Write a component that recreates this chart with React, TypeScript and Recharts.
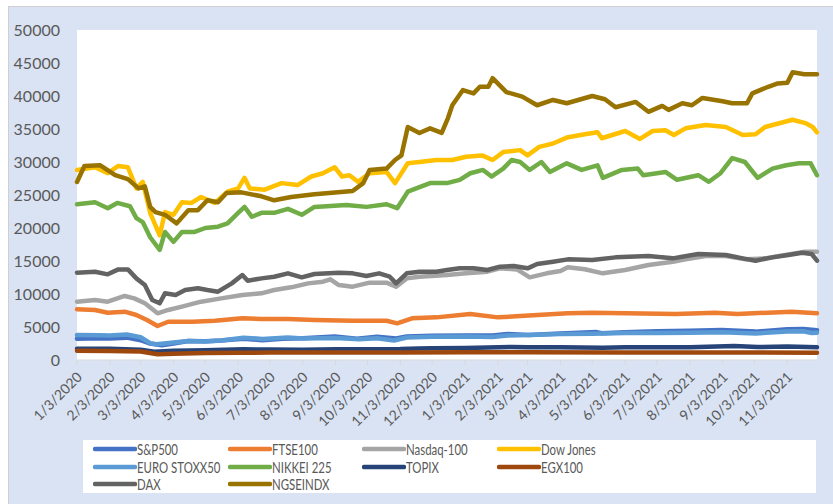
import { LineChart, Line, XAxis, YAxis, CartesianGrid } from "recharts";

// x-axis labels, one per month on the 3rd
const tickLabels = [
  "1/3/2020", "2/3/2020", "3/3/2020", "4/3/2020", "5/3/2020", "6/3/2020",
  "7/3/2020", "8/3/2020", "9/3/2020", "10/3/2020", "11/3/2020", "12/3/2020",
  "1/3/2021", "2/3/2021", "3/3/2021", "4/3/2021", "5/3/2021", "6/3/2021",
  "7/3/2021", "8/3/2021", "9/3/2021", "10/3/2021", "11/3/2021",
];
const yTicks = [0, 5000, 10000, 15000, 20000, 25000, 30000, 35000, 40000, 45000, 50000];
const firstDay = "2020-01-03";
const lastDay = "2021-12-01";

type Pt = [string, number];

const sp500: Pt[] = [
  ["2020-01-03", 3235], ["2020-01-24", 3300], ["2020-02-03", 3250], ["2020-02-19", 3386],
  ["2020-03-03", 3000], ["2020-03-12", 2480], ["2020-03-23", 2237], ["2020-04-03", 2490],
  ["2020-04-17", 2870], ["2020-05-03", 2830], ["2020-05-18", 2950], ["2020-06-08", 3230],
  ["2020-06-26", 3010], ["2020-07-15", 3230], ["2020-08-03", 3290], ["2020-09-02", 3580],
  ["2020-09-23", 3240], ["2020-10-12", 3530], ["2020-10-30", 3270], ["2020-11-09", 3550],
  ["2020-12-03", 3670], ["2021-01-04", 3700], ["2021-01-29", 3710], ["2021-02-12", 3930],
  ["2021-03-04", 3770], ["2021-04-03", 4020], ["2021-05-07", 4230], ["2021-05-12", 4060],
  ["2021-06-03", 4200], ["2021-07-03", 4350], ["2021-08-03", 4420], ["2021-09-02", 4540],
  ["2021-10-04", 4300], ["2021-11-03", 4660], ["2021-11-18", 4700], ["2021-11-26", 4590],
  ["2021-12-01", 4510],
];

const ftse100: Pt[] = [
  ["2020-01-03", 7680], ["2020-01-20", 7580], ["2020-02-01", 7170], ["2020-02-17", 7320],
  ["2020-02-28", 6820], ["2020-03-09", 6060], ["2020-03-19", 5150], ["2020-03-29", 5800],
  ["2020-04-21", 5800], ["2020-05-12", 5950], ["2020-06-07", 6310], ["2020-06-25", 6210],
  ["2020-07-20", 6210], ["2020-08-14", 6060], ["2020-09-19", 5950], ["2020-10-21", 5950],
  ["2020-10-31", 5550], ["2020-11-14", 6310], ["2020-12-07", 6460], ["2021-01-08", 6970],
  ["2021-02-03", 6460], ["2021-02-24", 6660], ["2021-04-10", 7070], ["2021-05-03", 7170],
  ["2021-07-21", 6970], ["2021-08-27", 7170], ["2021-09-17", 6970], ["2021-11-07", 7320],
  ["2021-12-01", 7070],
];

const nasdaq100: Pt[] = [
  ["2020-01-03", 8840], ["2020-01-20", 9090], ["2020-02-01", 8840], ["2020-02-17", 9700],
  ["2020-02-26", 9340], ["2020-03-07", 8590], ["2020-03-19", 7070], ["2020-03-29", 7580],
  ["2020-04-11", 8080], ["2020-04-29", 8840], ["2020-05-18", 9340], ["2020-06-07", 9850],
  ["2020-06-25", 10100], ["2020-07-07", 10600], ["2020-07-23", 11010], ["2020-08-08", 11610],
  ["2020-08-22", 11870], ["2020-08-29", 12220], ["2020-09-06", 11360], ["2020-09-19", 11110],
  ["2020-10-05", 11720], ["2020-10-21", 11720], ["2020-10-30", 11110], ["2020-11-09", 12370],
  ["2020-11-21", 12620], ["2020-12-17", 12880], ["2021-01-04", 13130], ["2021-01-24", 13380],
  ["2021-02-05", 13890], ["2021-02-21", 13730], ["2021-03-05", 12520], ["2021-03-21", 13130],
  ["2021-04-03", 13480], ["2021-04-10", 14040], ["2021-04-26", 13740], ["2021-05-13", 13130],
  ["2021-06-03", 13630], ["2021-06-25", 14390], ["2021-07-18", 14890], ["2021-07-30", 15250],
  ["2021-08-18", 15760], ["2021-09-06", 15760], ["2021-09-25", 15250], ["2021-10-13", 15400],
  ["2021-11-01", 15910], ["2021-11-20", 16410], ["2021-12-01", 16410],
];

const dowJones: Pt[] = [
  ["2020-01-03", 28800], ["2020-01-20", 29200], ["2020-02-01", 28300], ["2020-02-11", 29400],
  ["2020-02-20", 29200], ["2020-02-28", 26000], ["2020-03-05", 27000], ["2020-03-12", 22300],
  ["2020-03-21", 18900], ["2020-03-26", 22400], ["2020-04-03", 22000], ["2020-04-11", 23900],
  ["2020-04-20", 23800], ["2020-04-29", 24700], ["2020-05-12", 23800], ["2020-05-24", 25500],
  ["2020-06-03", 26000], ["2020-06-09", 27600], ["2020-06-14", 26000], ["2020-06-28", 25800],
  ["2020-07-14", 26800], ["2020-07-29", 26500], ["2020-08-11", 27800], ["2020-08-22", 28300],
  ["2020-09-02", 29200], ["2020-09-09", 27800], ["2020-09-16", 28000], ["2020-09-24", 27000],
  ["2020-10-05", 28300], ["2020-10-21", 28500], ["2020-10-29", 26800], ["2020-11-10", 29800],
  ["2020-11-21", 30000], ["2020-12-07", 30300], ["2020-12-22", 30300], ["2021-01-04", 30800],
  ["2021-01-19", 31000], ["2021-01-29", 30300], ["2021-02-08", 31500], ["2021-02-24", 31800],
  ["2021-03-03", 31000], ["2021-03-14", 32300], ["2021-03-27", 32800], ["2021-04-09", 33700],
  ["2021-04-26", 34200], ["2021-05-08", 34500], ["2021-05-12", 33600], ["2021-06-03", 34700],
  ["2021-06-17", 33500], ["2021-06-29", 34700], ["2021-07-11", 34800], ["2021-07-19", 34100],
  ["2021-07-30", 35100], ["2021-08-18", 35600], ["2021-09-06", 35300], ["2021-09-22", 34100],
  ["2021-10-04", 34200], ["2021-10-13", 35300], ["2021-11-08", 36400], ["2021-11-20", 35900],
  ["2021-11-27", 35300], ["2021-12-01", 34500],
];

const euroStoxx50: Pt[] = [
  ["2020-01-03", 3770], ["2020-01-24", 3750], ["2020-02-03", 3700], ["2020-02-19", 3860],
  ["2020-03-03", 3450], ["2020-03-12", 2550], ["2020-03-18", 2390], ["2020-04-03", 2660],
  ["2020-04-17", 2890], ["2020-05-03", 2800], ["2020-05-18", 2950], ["2020-06-08", 3380],
  ["2020-06-26", 3200], ["2020-07-20", 3400], ["2020-08-03", 3250], ["2020-09-03", 3330],
  ["2020-09-25", 3160], ["2020-10-12", 3300], ["2020-10-28", 2960], ["2020-11-09", 3400],
  ["2020-12-03", 3520], ["2021-01-04", 3560], ["2021-01-29", 3480], ["2021-02-12", 3700],
  ["2021-03-04", 3800], ["2021-04-03", 3950], ["2021-05-03", 3980], ["2021-06-03", 4080],
  ["2021-07-03", 4100], ["2021-08-03", 4120], ["2021-09-03", 4220], ["2021-10-04", 4030],
  ["2021-11-03", 4300], ["2021-11-18", 4350], ["2021-11-26", 4090], ["2021-12-01", 4140],
];

const nikkei225: Pt[] = [
  ["2020-01-03", 23600], ["2020-01-20", 23900], ["2020-02-01", 23000], ["2020-02-10", 23800],
  ["2020-02-22", 23300], ["2020-02-28", 21500], ["2020-03-05", 20900], ["2020-03-12", 18600],
  ["2020-03-21", 16700], ["2020-03-26", 19400], ["2020-04-03", 17900], ["2020-04-11", 19400],
  ["2020-04-23", 19400], ["2020-05-03", 20000], ["2020-05-15", 20200], ["2020-05-24", 20700],
  ["2020-06-03", 22300], ["2020-06-09", 23200], ["2020-06-16", 21700], ["2020-06-25", 22300],
  ["2020-07-07", 22300], ["2020-07-20", 22900], ["2020-08-02", 22000], ["2020-08-14", 23200],
  ["2020-09-13", 23500], ["2020-10-02", 23200], ["2020-10-21", 23600], ["2020-10-31", 23000],
  ["2020-11-10", 25500], ["2020-11-18", 26000], ["2020-12-01", 26800], ["2020-12-17", 26800],
  ["2020-12-29", 27300], ["2021-01-08", 28300], ["2021-01-20", 28800], ["2021-01-28", 27800],
  ["2021-02-08", 29000], ["2021-02-16", 30300], ["2021-02-24", 30000], ["2021-03-05", 28800],
  ["2021-03-16", 30000], ["2021-03-24", 28500], ["2021-04-09", 29800], ["2021-04-23", 28800],
  ["2021-05-08", 29500], ["2021-05-13", 27600], ["2021-05-31", 28800], ["2021-06-15", 29000],
  ["2021-06-20", 28000], ["2021-07-11", 28500], ["2021-07-22", 27300], ["2021-08-11", 28000],
  ["2021-08-21", 27000], ["2021-09-01", 28300], ["2021-09-12", 30600], ["2021-09-24", 30000],
  ["2021-10-06", 27600], ["2021-10-20", 29000], ["2021-11-02", 29500], ["2021-11-14", 29800],
  ["2021-11-25", 29800], ["2021-12-01", 28000],
];

const topix: Pt[] = [
  ["2020-01-03", 1720], ["2020-02-03", 1690], ["2020-03-03", 1550], ["2020-03-16", 1250],
  ["2020-04-03", 1400], ["2020-05-03", 1480], ["2020-06-08", 1620], ["2020-07-03", 1580],
  ["2020-08-03", 1550], ["2020-09-03", 1620], ["2020-10-03", 1630], ["2020-11-03", 1650],
  ["2020-11-20", 1750], ["2020-12-03", 1780], ["2021-01-03", 1800], ["2021-02-16", 1980],
  ["2021-03-03", 1950], ["2021-04-03", 1950], ["2021-05-13", 1850], ["2021-06-03", 1950],
  ["2021-07-03", 1950], ["2021-08-03", 1920], ["2021-09-14", 2120], ["2021-10-06", 1960],
  ["2021-11-03", 2050], ["2021-12-01", 1930],
];

const egx100: Pt[] = [
  ["2020-01-03", 1400], ["2020-02-03", 1380], ["2020-03-03", 1300], ["2020-03-19", 880],
  ["2020-04-03", 950], ["2020-05-03", 1050], ["2020-06-03", 1100], ["2020-07-03", 1120],
  ["2020-09-03", 1150], ["2020-11-03", 1130], ["2021-01-03", 1180], ["2021-03-03", 1170],
  ["2021-06-03", 1150], ["2021-09-03", 1140], ["2021-12-01", 1100],
];

const dax: Pt[] = [
  ["2020-01-03", 13230], ["2020-01-20", 13380], ["2020-02-01", 12980], ["2020-02-11", 13730],
  ["2020-02-20", 13730], ["2020-02-28", 12370], ["2020-03-07", 11360], ["2020-03-14", 9090],
  ["2020-03-21", 8590], ["2020-03-26", 10100], ["2020-04-05", 9850], ["2020-04-14", 10600],
  ["2020-04-26", 10860], ["2020-05-05", 10600], ["2020-05-15", 10350], ["2020-05-28", 11610],
  ["2020-06-07", 12880], ["2020-06-12", 12010], ["2020-06-25", 12370], ["2020-07-07", 12620],
  ["2020-07-20", 13130], ["2020-08-02", 12520], ["2020-08-14", 13030], ["2020-09-06", 13230],
  ["2020-09-19", 13130], ["2020-10-02", 12730], ["2020-10-14", 13130], ["2020-10-24", 12620],
  ["2020-10-30", 11610], ["2020-11-09", 13130], ["2020-11-21", 13380], ["2020-12-07", 13380],
  ["2020-12-17", 13630], ["2020-12-29", 13890], ["2021-01-11", 13890], ["2021-01-24", 13630],
  ["2021-02-05", 14140], ["2021-02-18", 14240], ["2021-03-03", 13890], ["2021-03-12", 14540],
  ["2021-03-27", 14890], ["2021-04-10", 15250], ["2021-05-03", 15150], ["2021-05-25", 15550],
  ["2021-06-25", 15760], ["2021-07-18", 15400], ["2021-08-11", 16060], ["2021-09-06", 15910],
  ["2021-09-22", 15400], ["2021-10-04", 15050], ["2021-10-20", 15550], ["2021-11-04", 15910],
  ["2021-11-17", 16260], ["2021-11-26", 16060], ["2021-12-01", 15050],
];

const ngseindx: Pt[] = [
  ["2020-01-03", 26970], ["2020-01-10", 29400], ["2020-01-25", 29500], ["2020-02-08", 28000],
  ["2020-02-20", 27400], ["2020-03-01", 26000], ["2020-03-07", 26300], ["2020-03-12", 23200],
  ["2020-03-17", 22400], ["2020-03-26", 22000], ["2020-04-06", 20700], ["2020-04-17", 22700],
  ["2020-04-26", 22700], ["2020-05-05", 24200], ["2020-05-15", 23900], ["2020-05-23", 25300],
  ["2020-06-06", 25400], ["2020-06-25", 24800], ["2020-07-07", 24200], ["2020-07-23", 24700],
  ["2020-08-14", 25100], ["2020-09-19", 25600], ["2020-09-29", 26800], ["2020-10-05", 28800],
  ["2020-10-21", 29000], ["2020-10-29", 30300], ["2020-11-04", 31000], ["2020-11-10", 35300],
  ["2020-11-21", 34400], ["2020-12-01", 35100], ["2020-12-12", 34400], ["2020-12-18", 36700],
  ["2020-12-22", 38600], ["2021-01-01", 40900], ["2021-01-11", 40400], ["2021-01-17", 41400],
  ["2021-01-25", 41400], ["2021-01-29", 42700], ["2021-02-11", 40600], ["2021-02-26", 39900],
  ["2021-03-12", 38600], ["2021-03-27", 39400], ["2021-04-09", 38900], ["2021-05-03", 40000],
  ["2021-05-15", 39500], ["2021-05-25", 38300], ["2021-06-13", 39100], ["2021-06-25", 37600],
  ["2021-07-08", 38500], ["2021-07-14", 37900], ["2021-07-27", 38900], ["2021-08-05", 38600],
  ["2021-08-15", 39700], ["2021-09-03", 39200], ["2021-09-12", 38900], ["2021-09-26", 38900],
  ["2021-10-01", 40400], ["2021-10-16", 41400], ["2021-10-25", 41900], ["2021-11-03", 42000],
  ["2021-11-08", 43600], ["2021-11-19", 43300], ["2021-12-01", 43300],
];

const seriesNames = [
  "S&P500", "FTSE100", "Nasdaq-100", "Dow Jones", "EURO STOXX50",
  "NIKKEI 225", "TOPIX", "EGX100", "DAX", "NGSEINDX",
];
const seriesColors = [
  "#4472C4", "#ED7D31", "#A5A5A5", "#FFC000", "#5B9BD5",
  "#70AD47", "#264478", "#9E480E", "#636363", "#997300",
];
const seriesPoints = [
  sp500, ftse100, nasdaq100, dowJones, euroStoxx50,
  nikkei225, topix, egx100, dax, ngseindx,
];

const toTime = (s: string) => {
  const [y, m, d] = s.split("-").map(Number);
  return Date.UTC(y, m - 1, d);
};
const labelTime = (s: string) => {
  const [m, d, y] = s.split("/").map(Number);
  return Date.UTC(y, m - 1, d);
};
const tickTimes = tickLabels.map(labelTime);

const series = seriesNames.map((name, i) => ({
  name,
  color: seriesColors[i],
  data: seriesPoints[i].map(([d, v]) => ({ t: toTime(d), v })),
}));

const DateTick = (props: any) => {
  const { x, y, payload } = props;
  const label = tickLabels[tickTimes.indexOf(payload.value)];
  const ax = x + 6;
  return (
    <text
      x={ax}
      y={y}
      transform={`rotate(-45, ${ax}, ${y})`}
      textAnchor="end"
      fill="#595959"
      fontSize={14}
      fontFamily="Lato"
    >
      {label}
    </text>
  );
};

const ChartLegend = () => (
  <div
    style={{
      position: "absolute",
      left: 82,
      top: 439,
      width: 733,
      height: 53,
      background: "#fff",
    }}
  >
    {series.map((s, i) => (
      <div
        key={s.name}
        style={{
          position: "absolute",
          left: 10 + (i % 4) * 134.5,
          top: Math.floor(i / 4) * 17.5,
          height: 18,
          display: "flex",
          alignItems: "center",
          whiteSpace: "nowrap",
        }}
      >
        <svg width={44} height={8}>
          <line x1={2} y1={4} x2={42} y2={4} stroke={s.color} strokeWidth={4.5} strokeLinecap="round" />
        </svg>
        <span
          style={{
            display: "inline-block",
            fontFamily: "Lato, sans-serif",
            fontSize: 15,
            color: "#595959",
            transform: "scaleX(0.76)",
            transformOrigin: "left center",
          }}
        >
          {s.name}
        </span>
      </div>
    ))}
  </div>
);

export default function App() {
  return (
    <div
      style={{
        position: "absolute",
        left: 8,
        top: 6,
        width: 825,
        height: 498,
        background: "#dae3f3",
        borderTop: "1px solid #d0cece",
        borderLeft: "1px solid #d0cece",
        boxSizing: "border-box",
      }}
    >
      <LineChart
        width={824}
        height={497}
        margin={{ top: 23, right: 16, left: 0, bottom: 0 }}
      >
        <CartesianGrid fill="#ffffff" horizontal={false} vertical={false} />
        <XAxis
          dataKey="t"
          type="number"
          domain={[toTime(firstDay), toTime(lastDay)]}
          ticks={tickTimes}
          interval={0}
          height={144}
          axisLine={{ stroke: "#d9d9d9" }}
          tickLine={{ stroke: "#d9d9d9" }}
          tickSize={5}
          tickMargin={13}
          tick={<DateTick />}
        />
        <YAxis
          type="number"
          domain={[0, 50000]}
          ticks={yTicks}
          interval={0}
          width={68}
          axisLine={false}
          tickLine={false}
          tickSize={0}
          tickMargin={17}
          tick={{ fill: "#595959", fontSize: 16, fontFamily: "Lato" }}
        />
        {series.map((s) => (
          <Line
            key={s.name}
            data={s.data}
            dataKey="v"
            name={s.name}
            stroke={s.color}
            strokeWidth={4.5}
            strokeLinejoin="round"
            strokeLinecap="round"
            dot={false}
            activeDot={false}
            isAnimationActive={false}
          />
        ))}
      </LineChart>
      <div style={{ position: "absolute", left: -8, top: -6 }}>
        <ChartLegend />
      </div>
    </div>
  );
}
